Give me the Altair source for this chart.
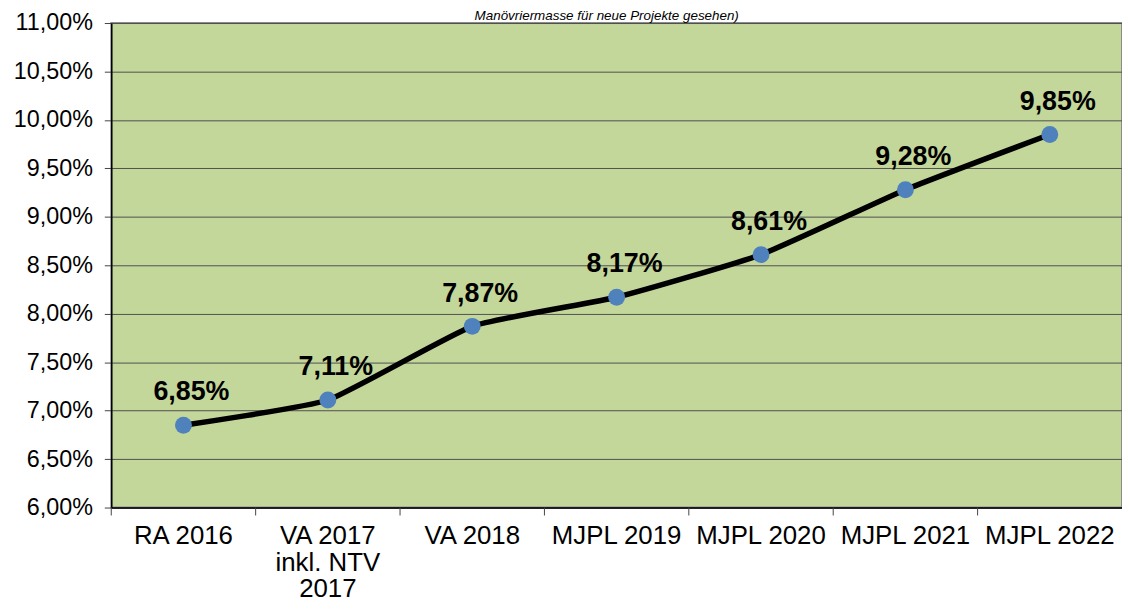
import altair as alt
import pandas as pd

categories = ["RA 2016", "VA 2017\ninkl. NTV\n2017", "VA 2018", "MJPL 2019",
              "MJPL 2020", "MJPL 2021", "MJPL 2022"]
values_pct = [6.85, 7.11, 7.87, 8.17, 8.61, 9.28, 9.85]
y_tick_pct = [6.0, 6.5, 7.0, 7.5, 8.0, 8.5, 9.0, 9.5, 10.0, 10.5, 11.0]
title_text = "Manövriermasse für neue Projekte gesehen)"

df = pd.DataFrame({"cat": categories, "val": [v / 100 for v in values_pct]})

W, H = 1018, 488
FONT = "Liberation Sans"
fmt = "replace(format(datum.value, '.2%'), '.', ',')"

xscale = alt.Scale(type="band", paddingInner=0, paddingOuter=0)
yscale = alt.Scale(domain=[0.06, 0.11], nice=False, zero=False)

x_enc = alt.X(
    "cat:N", sort=categories, scale=xscale, title=None,
    axis=alt.Axis(
        labelAngle=0, ticks=False, domain=True, domainColor="#000000", domainWidth=1.5,
        labelFont=FONT, labelFontSize=26, labelColor="#000000", labelLineHeight=27,
        labelPadding=15, labelExpr="split(datum.label, '\\n')", grid=False,
        labelOverlap=False, labelLimit=0,
    ),
)
y_enc = alt.Y(
    "val:Q", scale=yscale, title=None,
    axis=alt.Axis(
        values=[v / 100 for v in y_tick_pct], labelExpr=fmt,
        labelFont=FONT, labelFontSize=23.5, labelColor="#000000", labelPadding=12,
        tickSize=7, tickColor="#444444", tickWidth=1,
        domain=True, domainColor="#000000", domainWidth=1.5,
        grid=True, gridColor="#505050", gridWidth=1, labelOverlap=False,
    ),
)

base = alt.Chart(df)

line = base.mark_line(color="#000000", strokeWidth=5.5, interpolate="cardinal",
                      tension=0.55).encode(x=x_enc, y=y_enc)
points = base.mark_circle(color="#4F81BD", size=290, opacity=1).encode(
    x=alt.X("cat:N", sort=categories, scale=xscale), y=alt.Y("val:Q", scale=yscale)
)
labels = base.transform_calculate(
    lbl="replace(format(datum.val, '.2%'), '.', ',')"
).mark_text(
    font=FONT, fontSize=27, fontWeight="bold", color="#000000",
    dy=-33, dx=8, baseline="middle", align="center",
).encode(
    x=alt.X("cat:N", sort=categories, scale=xscale),
    y=alt.Y("val:Q", scale=yscale),
    text="lbl:N",
)
xticks = base.mark_rule(color="#444444", strokeWidth=1, clip=False).encode(
    x=alt.X("cat:N", sort=categories, scale=xscale, bandPosition=0),
    y=alt.value(H),
    y2=alt.value(H + 8),
)
title = alt.Chart(pd.DataFrame({"t": [title_text]})).mark_text(
    font=FONT, fontSize=13.5, fontStyle="italic", color="#000000",
    baseline="alphabetic", align="center", clip=False,
).encode(text="t:N", x=alt.value(499), y=alt.value(-3.5))

chart = alt.layer(line, points, labels, xticks, title).properties(
    width=W, height=H,
    autosize=alt.AutoSizeParams(type="none"),
    padding={"left": 104, "top": 13, "right": 0, "bottom": 94},
    background="#FFFFFF",
).configure_view(
    fill="#C4D79B", stroke="#8C8C8C", strokeWidth=2
)

chart.save("out.html", embed_options={"renderer": "svg", "actions": False})
